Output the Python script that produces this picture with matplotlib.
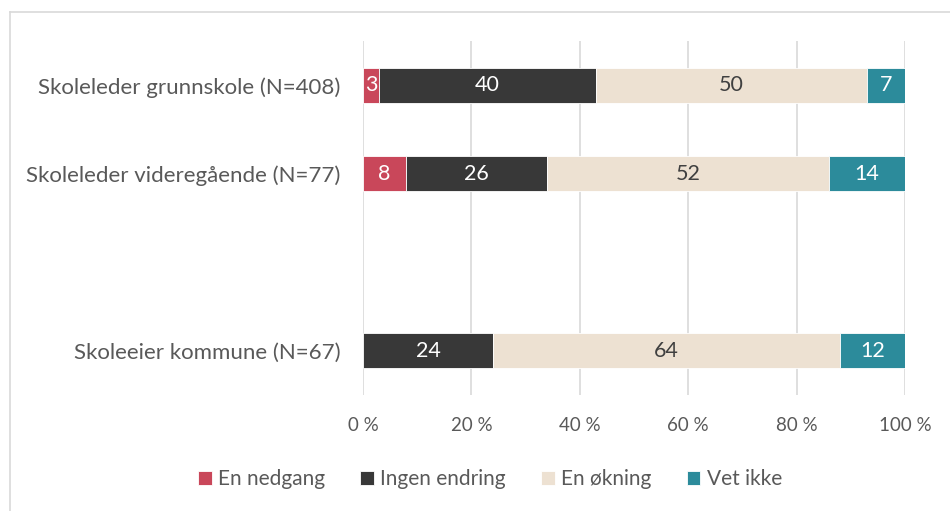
import matplotlib.pyplot as plt
from matplotlib.lines import Line2D

plt.rcParams["font.family"] = ["Lato", "DejaVu Sans"]

categories = ["Skoleleder grunnskole (N=408)", "Skoleleder videregående (N=77)", "", "Skoleeier kommune (N=67)"]
series = ["En nedgang", "Ingen endring", "En økning", "Vet ikke"]
nedgang = [3, 8, 0, 0]
ingen = [40, 26, 0, 24]
okning = [50, 52, 0, 64]
vet_ikke = [7, 14, 0, 12]
xticks = [0, 20, 40, 60, 80, 100]

colors = ["#C9475A", "#383838", "#EDE1D2", "#2C8B9B"]
text_colors = ["white", "white", "#404040", "white"]
grey = "#595959"

fig = plt.figure(figsize=(9.5, 5.11), dpi=100)
ax = fig.add_axes([363 / 950, 1 - 395 / 511, 542 / 950, 354 / 511])

left = [0] * len(categories)
for name, vals, c, tc in zip(series, [nedgang, ingen, okning, vet_ikke], colors, text_colors):
    idx = [i for i, v in enumerate(vals) if v > 0]
    bars = ax.barh(idx, [vals[i] for i in idx], left=[left[i] for i in idx], height=0.4,
                   color=c, label=name, edgecolor="white", linewidth=0.6, zorder=3)
    for b, i in zip(bars, idx):
        ax.text(b.get_x() + b.get_width() / 2, b.get_y() + b.get_height() / 2, str(vals[i]),
                ha="center", va="center", color=tc, fontsize=15.5, zorder=4)
    left = [l + v for l, v in zip(left, vals)]

ax.set_xlim(0, 100)
ax.set_ylim(3.5, -0.5)
ax.set_xticks(xticks)
ax.set_xticklabels([f"{t} %" for t in xticks])
ax.set_yticks(range(len(categories)))
ax.set_yticklabels(categories, fontsize=16)
ax.tick_params(axis="both", length=0, colors=grey)
ax.tick_params(axis="x", pad=16, labelsize=13.5)
ax.tick_params(axis="y", pad=16)
ax.grid(axis="x", color="#D9D9D9", linewidth=1.2, zorder=0)
for s in ax.spines.values():
    s.set_visible(False)

fig.legend(loc="center", bbox_to_anchor=(490 / 950, 1 - 479 / 511), ncol=4, frameon=False,
           fontsize=15, labelcolor=grey, handlelength=0.65, handleheight=0.65,
           handletextpad=0.3, columnspacing=1.7)

# outer border lines
fig.add_artist(Line2D([9.5 / 950, 9.5 / 950], [0, 1 - 12 / 511], transform=fig.transFigure, color="#D9D9D9", lw=1.2))
fig.add_artist(Line2D([9.5 / 950, 1], [1 - 12 / 511, 1 - 12 / 511], transform=fig.transFigure, color="#D9D9D9", lw=1.2))

fig.savefig("out.png", dpi=100)
